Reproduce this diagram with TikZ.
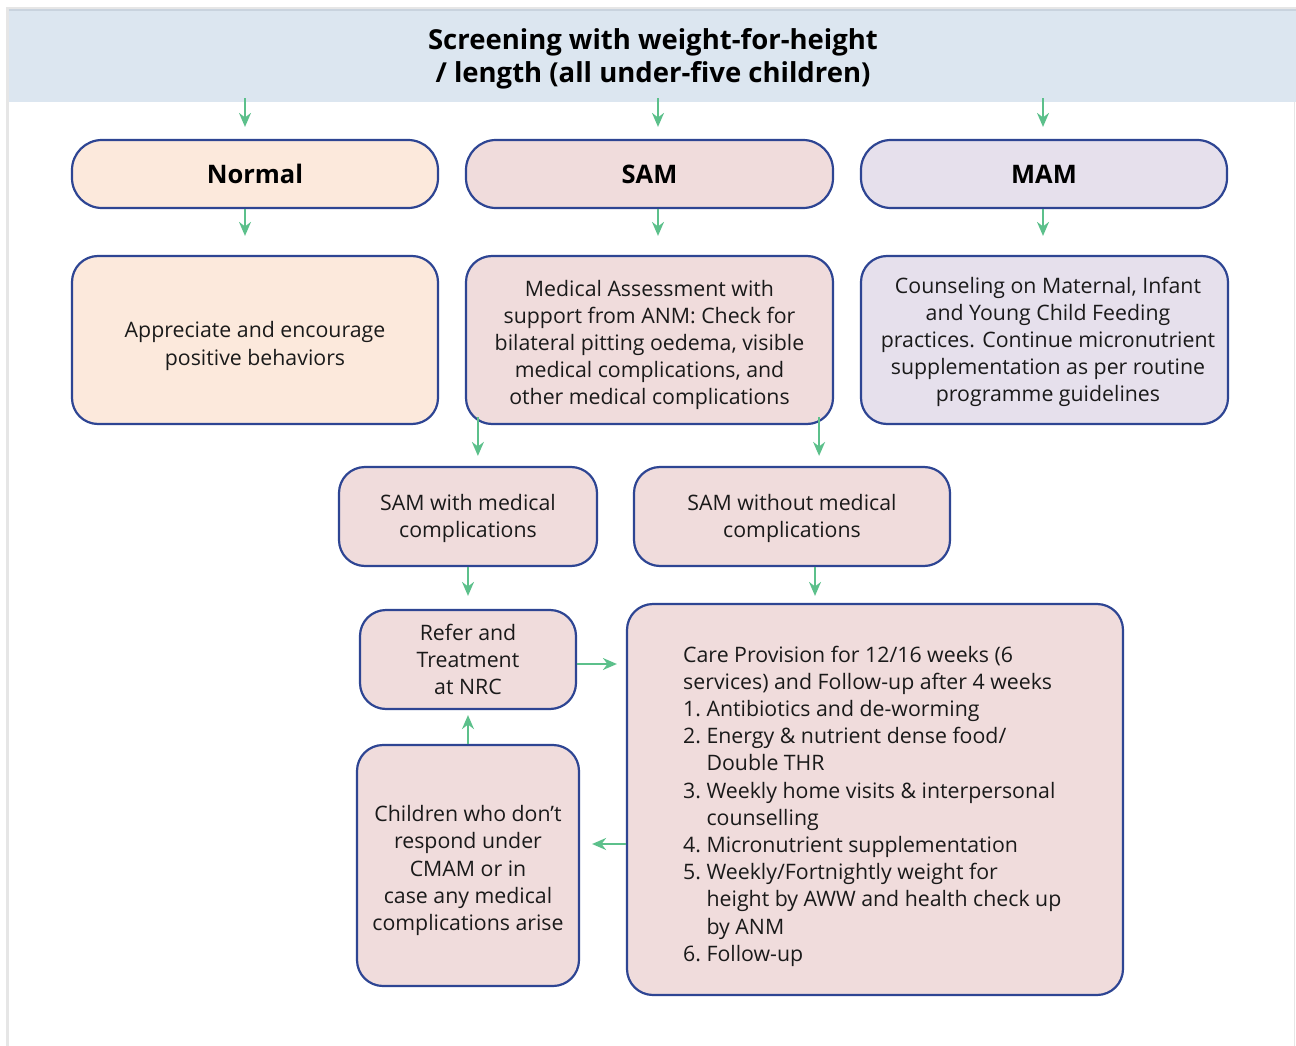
\documentclass[tikz,border=0pt]{standalone}
\usepackage{fontspec}
\setmainfont{Open Sans}
\usetikzlibrary{arrows.meta,calc}
\definecolor{bandblue}{HTML}{DCE6F0}
\definecolor{bandline}{HTML}{C9D3DE}
\definecolor{framegray}{HTML}{E6E6E6}
\definecolor{navy}{HTML}{2E4593}
\definecolor{peach}{HTML}{FCE9DC}
\definecolor{rose}{HTML}{F0DCDC}
\definecolor{lilac}{HTML}{E6E0EC}
\definecolor{arrowgreen}{HTML}{5CC08B}
\definecolor{ink}{HTML}{1A1A1A}
\tikzset{
  box/.style={draw=navy, line width=2.2pt, rounded corners=26pt, inner sep=0pt},
  pill/.style={box, rounded corners=30pt, align=center, text=black,
    font=\fontsize{25.5}{30}\selectfont\bfseries},
  txt/.style={inner sep=0pt, align=center, text=ink, font=\fontsize{21.3}{27.2}\selectfont},
  arr/.style={draw=arrowgreen, line width=1.8pt, -{Stealth[length=14pt,width=12pt]}},
}
\begin{document}
\begin{tikzpicture}[x=1pt,y=-1pt]
\useasboundingbox (0,0) rectangle (1296,1046);
% page frame
\fill[white] (0,0) rectangle (1296,1046);
\draw[framegray, line width=2.5pt] (7.5,1046) -- (7.5,8.5) -- (1296,8.5);
\draw[framegray, line width=1pt] (1294,8.5) -- (1294,1046);
% title band
\node[fill=bandblue, minimum width=1287pt, minimum height=92pt, inner sep=0pt] (hdr) at (652.5,56) {};
\draw[bandline, line width=1.5pt] (hdr.north west) -- (hdr.north east);
\node[inner sep=0pt, align=center, font=\fontsize{27.5}{33}\selectfont\bfseries]
  (title) at (653,59) {Screening with weight-for-height\\/ length (all under-five children)};

% first row
\node[pill, fill=peach, minimum width=366pt, minimum height=68pt] (normal) at (255,174) {Normal};
\node[pill, fill=rose,  minimum width=367pt, minimum height=68pt] (sam)    at (649.5,174) {SAM};
\node[pill, fill=lilac, minimum width=366pt, minimum height=68pt] (mam)    at (1044,174) {MAM};

% second row
\node[box, fill=peach, minimum width=366pt, minimum height=168pt] (appr) at (255,340) {};
\node[txt] (apprtext) at ([yshift=-6pt]appr.center) {Appreciate and encourage\\positive behaviors};
\node[box, fill=rose, minimum width=367pt, minimum height=168pt] (assess) at (649.5,340) {};
\node[txt] (assesstext) at ([yshift=-5pt]assess.center)
  {Medical Assessment with\\support from ANM: Check for\\bilateral pitting oedema, visible\\medical complications, and\\other medical complications};
\node[box, fill=lilac, minimum width=367pt, minimum height=168pt] (couns) at (1044.5,340) {};
\node[txt] (counstext) at ([xshift=3.5pt,yshift=-2pt]couns.center)
  {Counseling on Maternal, Infant\\and Young Child Feeding\\practices. Continue micronutrient\\supplementation as per routine\\programme guidelines};

% third row
\node[box, fill=rose, minimum width=258pt, minimum height=99pt] (samwith) at (468,516.5) {};
\node[txt] (samwithtext) at ([yshift=-2pt]samwith.center) {SAM with medical\\complications};
\node[box, fill=rose, minimum width=316pt, minimum height=99pt] (samwithout) at (792,516.5) {};
\node[txt] (samwithouttext) at ([yshift=-2pt]samwithout.center) {SAM without medical\\complications};

% lower part
\node[box, fill=rose, minimum width=216pt, minimum height=99pt] (refer) at (468,659.5) {};
\node[txt] (refertext) at (refer.center) {Refer and\\Treatment\\at NRC};
\node[box, fill=rose, minimum width=222pt, minimum height=241pt] (children) at (468,865.5) {};
\node[txt] (childrentext) at ([yshift=-5pt]children.center)
  {Children who don’t\\respond under\\CMAM or in\\case any medical\\complications arise};
\node[box, fill=rose, minimum width=496pt, minimum height=391pt] (care) at (875,799.5) {};
\node[txt, anchor=west, align=left] (caretext) at (683,806) {Care Provision for 12/16 weeks (6\\
services) and Follow-up after 4 weeks\\
1.\ Antibiotics and de-worming\\
2.\ Energy \& nutrient dense food/\\
\hphantom{2.\ }Double THR\\
3.\ Weekly home visits \& interpersonal\\
\hphantom{3.\ }counselling\\
4.\ Micronutrient supplementation\\
5.\ Weekly/Fortnightly weight for\\
\hphantom{5.\ }height by AWW and health check up\\
\hphantom{5.\ }by ANM\\
6.\ Follow-up};

% connectors
\draw[arr, shorten <=-4pt, shorten >=12pt] ([xshift=-10pt]normal.north |- hdr.south) -- ([xshift=-10pt]normal.north);
\draw[arr, shorten <=-4pt, shorten >=12pt] ([xshift=8.5pt]sam.north |- hdr.south) -- ([xshift=8.5pt]sam.north);
\draw[arr, shorten <=-4pt, shorten >=12pt] ([xshift=-1pt]mam.north |- hdr.south) -- ([xshift=-1pt]mam.north);
\draw[arr, shorten >=19pt] ([xshift=-10pt]normal.south) -- ([xshift=-10pt]normal.south |- appr.north);
\draw[arr, shorten >=19pt] ([xshift=8.5pt]sam.south) -- ([xshift=8.5pt]sam.south |- assess.north);
\draw[arr, shorten >=19pt] ([xshift=-1pt]mam.south) -- ([xshift=-1pt]mam.south |- couns.north);
\draw[arr, shorten >=10pt] ([xshift=13pt,yshift=8pt]assess.south west)
  -- ([xshift=13pt]assess.south west |- samwith.north);
\draw[arr, shorten >=10pt] ([xshift=-15pt,yshift=8pt]assess.south east)
  -- ([xshift=-15pt]assess.south east |- samwithout.north);
\draw[arr, shorten >=13pt] (samwith.south) -- (refer.north);
\draw[arr, shorten >=7pt] ([xshift=23pt]samwithout.south) -- ([xshift=23pt]samwithout.south |- care.north);
\draw[arr, shorten >=9pt] ([yshift=-4.5pt]refer.east) -- ([yshift=-4.5pt]refer.east -| care.west);
\draw[arr, shorten >=5pt] (children.north) -- (refer.south);
\draw[arr, shorten >=12pt] ([yshift=-44.5pt]care.west) -- ([yshift=-44.5pt]care.west -| children.east);
\end{tikzpicture}
\end{document}
